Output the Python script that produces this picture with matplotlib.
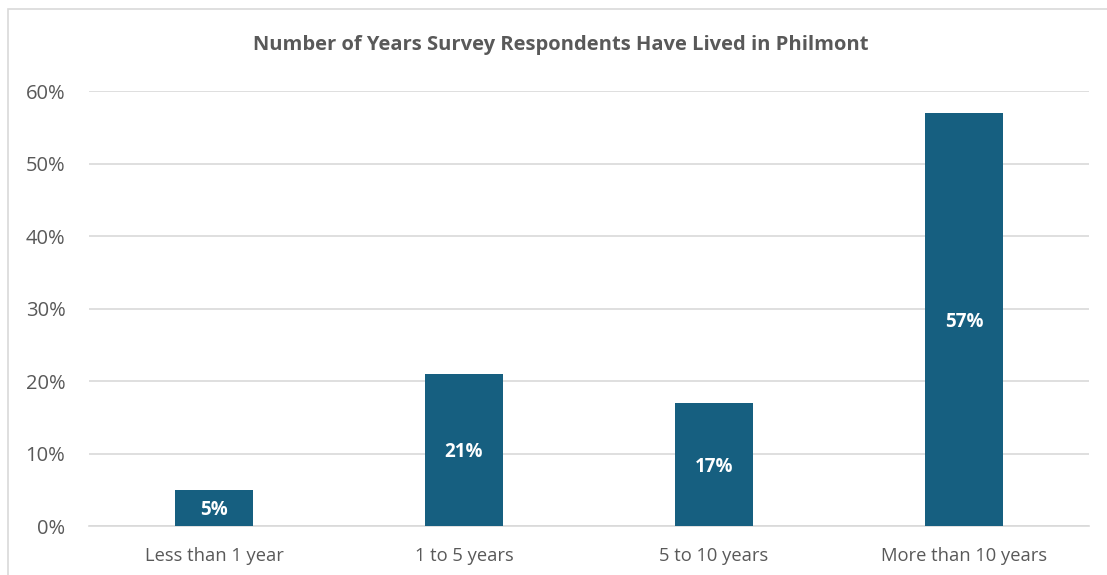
import matplotlib
matplotlib.use("Agg")
import matplotlib.pyplot as plt
from matplotlib.patches import Rectangle
from matplotlib.ticker import PercentFormatter

categories = ["Less than 1 year", "1 to 5 years", "5 to 10 years", "More than 10 years"]
shares = [5, 21, 17, 57]
y_ticks = [0, 10, 20, 30, 40, 50, 60]

bar_color = "#165F80"
text_color = "#595959"
grid_color = "#D9D9D9"

plt.rcParams["font.family"] = ["Open Sans", "DejaVu Sans"]

fig = plt.figure(figsize=(11.07, 5.75), dpi=100)

# outer chart frame (left and top edges visible)
fig.patches.append(Rectangle((8 / 1107, -0.01), 1.2, 1 - 9 / 575 + 0.01,
                             transform=fig.transFigure, fill=False,
                             edgecolor=grid_color, linewidth=1.2))

ax = fig.add_axes([89 / 1107, 1 - 526 / 575, 1000 / 1107, 435 / 575])
x = range(len(categories))
bars = ax.bar(x, shares, width=0.312, color=bar_color, zorder=3)

for b, v in zip(bars, shares):
    ax.text(b.get_x() + b.get_width() / 2, v / 2, f"{v}%", ha="center", va="center_baseline",
            color="white", fontsize=13.5, fontweight="bold", zorder=4)

ax.set_xlim(-0.5, len(categories) - 0.5)
ax.set_ylim(0, 60)
ax.set_yticks(y_ticks)
ax.yaxis.set_major_formatter(PercentFormatter(decimals=0))
ax.set_xticks(list(x))
ax.set_xticklabels(categories)
ax.grid(axis="y", color=grid_color, linewidth=1.2, zorder=0)
for side in ["top", "right", "left"]:
    ax.spines[side].set_visible(False)
ax.spines["bottom"].set_color(grid_color)
ax.spines["bottom"].set_linewidth(1.2)
ax.tick_params(axis="both", length=0, colors=text_color)
ax.tick_params(axis="y", labelsize=14.5, pad=17)
ax.tick_params(axis="x", labelsize=13.2, pad=15)

fig.text(0.507, 1 - 45 / 575, "Number of Years Survey Respondents Have Lived in Philmont",
         ha="center", va="center", fontsize=14.5, fontweight="bold", color=text_color)

fig.savefig("out.png", dpi=100)
